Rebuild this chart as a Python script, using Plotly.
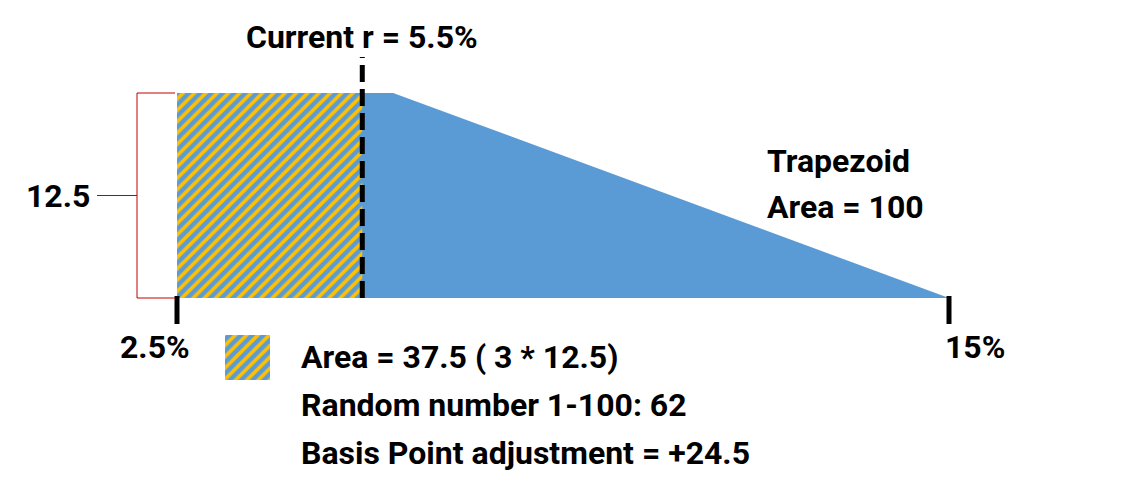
import plotly.graph_objects as go

# ---- data ----
rate_start = 2.5        # % (left edge)
rate_end = 15.0         # % (right edge)
current_r = 5.5         # % current rate
plateau_end = 6.0       # % where the flat top ends
height = 12.5           # height of the distribution
tick_rates = [2.5, 15.0]
tick_labels = ["2.5%", "15%"]
trap_label = ["Trapezoid", "Area = 100"]
info_lines = ["Area = 37.5 ( 3 * 12.5)", "Random number 1-100: 62", "Basis Point adjustment = +24.5"]

# ---- layout helpers (page pixel -> data) ----
OFF = 8                       # default page body margin
W, H = 1135 - 2 * OFF, 499 - 2 * OFF
px_per_x = (949 - 177) / (rate_end - rate_start)
X0 = rate_start - (177 - OFF) / px_per_x
X1 = X0 + W / px_per_x
px_per_y = (298 - 93) / height
Y1 = (298 - OFF) / px_per_y
Y0 = Y1 - H / px_per_y

def px2x(p):
    return X0 + (p - OFF) / px_per_x

def px2y(p):
    return Y1 - (p - OFF) / px_per_y

BLUE = "#5B9BD5"
ORANGE = "#FFC000"
FONT = dict(family="Roboto, Liberation Sans, Arial", size=32, color="black", weight="bold")

fig = go.Figure()

# trapezoid
fig.add_trace(go.Scatter(
    x=[rate_start, rate_start, plateau_end, rate_end, rate_start],
    y=[0, height, height, 0, 0],
    fill="toself", fillcolor=BLUE, mode="lines", line=dict(width=0),
    hoverinfo="skip", showlegend=False))

# hatched area up to current r
hatch = dict(shape="/", bgcolor=BLUE, fgcolor=ORANGE, size=8, solidity=0.45, fillmode="replace")
fig.add_trace(go.Scatter(
    x=[rate_start, rate_start, current_r, current_r, rate_start],
    y=[0, height, height, 0, 0],
    fill="toself", fillcolor=BLUE, fillpattern=hatch, mode="lines", line=dict(width=0),
    hoverinfo="skip", showlegend=False))

# legend swatch
sx0, sx1 = px2x(225), px2x(270)
sy0, sy1 = px2y(335), px2y(380)
fig.add_trace(go.Scatter(
    x=[sx0, sx0, sx1, sx1, sx0], y=[sy0, sy1, sy1, sy0, sy0],
    fill="toself", fillcolor=BLUE, fillpattern=hatch, mode="lines", line=dict(width=0),
    hoverinfo="skip", showlegend=False))

# dashed current-r line
fig.add_trace(go.Scatter(
    x=[current_r, current_r], y=[0, px2y(57)], mode="lines",
    line=dict(color="black", width=5, dash="17px,7px"), hoverinfo="skip", showlegend=False))

# tick marks at ends
for r in tick_rates:
    fig.add_trace(go.Scatter(
        x=[r, r], y=[px2y(296), px2y(324)], mode="lines",
        line=dict(color="black", width=5), hoverinfo="skip", showlegend=False))

# red bracket for height
bx = px2x(137)
fig.add_trace(go.Scatter(
    x=[px2x(175), bx, bx, px2x(175)], y=[height, height, 0, 0], mode="lines",
    line=dict(color="#C00000", width=1), hoverinfo="skip", showlegend=False))
fig.add_trace(go.Scatter(
    x=[px2x(97), bx], y=[height / 2, height / 2], mode="lines",
    line=dict(color="#C00000", width=1), hoverinfo="skip", showlegend=False))

ann = []
ann.append(dict(x=current_r, y=px2y(37), text=f"Current r = {current_r}%", xanchor="center"))
ann.append(dict(x=px2x(92), y=height / 2, text=f"{height}", xanchor="right"))
ann.append(dict(x=px2x(155), y=px2y(347), text=tick_labels[0], xanchor="center"))
ann.append(dict(x=px2x(975), y=px2y(347), text=tick_labels[1], xanchor="center"))
ann.append(dict(x=px2x(765), y=px2y(161), text=trap_label[0], xanchor="left"))
ann.append(dict(x=px2x(765), y=px2y(207), text=trap_label[1], xanchor="left"))
for i, t in enumerate(info_lines):
    ann.append(dict(x=px2x(299), y=px2y(357 + 48 * i), text=t, xanchor="left"))
for a in ann:
    a.update(xref="x", yref="y", yanchor="middle", showarrow=False, font=FONT)

fig.update_layout(
    width=W, height=H, margin=dict(l=0, r=0, t=0, b=0),
    plot_bgcolor="white", paper_bgcolor="white",
    xaxis=dict(range=[X0, X1], visible=False, fixedrange=True),
    yaxis=dict(range=[Y0, Y1], visible=False, fixedrange=True),
    annotations=ann, showlegend=False)

fig.write_html("out.html")
